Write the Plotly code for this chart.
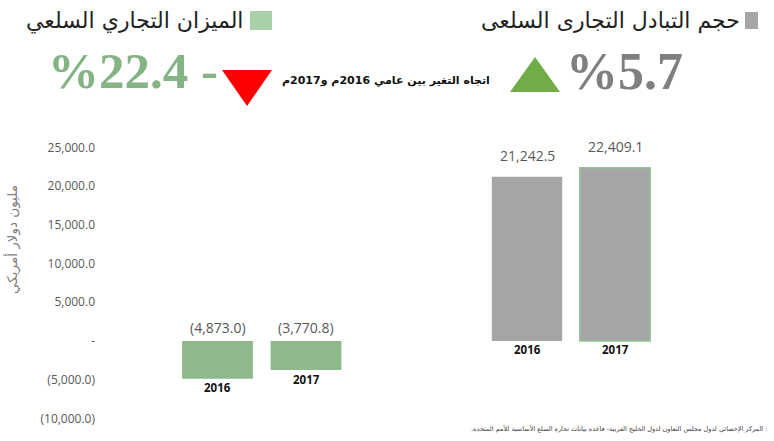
import plotly.graph_objects as go

# ---------------- data ----------------
years = ["2016", "2017"]
trade_balance = [-4873.0, -3770.8]          # الميزان التجاري السلعي
trade_volume = [21242.5, 22409.1]           # حجم التبادل التجاري السلعي
y_ticks = [25000, 20000, 15000, 10000, 5000, 0, -5000, -10000]
volume_change_text = "%5.7"
balance_change_text = "%22.4 -"

title_volume = "حجم التبادل التجارى السلعى"
title_balance = "الميزان التجاري السلعي"
change_caption = "اتجاه التغير بين عامي 2016م و2017م"
y_title = "مليون دولار أمريكي"
source_text = ": المركز الإحصائي لدول مجلس التعاون لدول الخليج العربية- قاعدة بيانات تجارة السلع الأساسية للأمم المتحدة."

W, H = 774, 441
GREEN_BAR = "#8db98d"
GRAY_BAR = "#a5a5a5"
LABEL_FONT = "Open Sans, Liberation Sans, sans-serif"
AR_FONT = "DejaVu Sans, sans-serif"
SERIF = "Liberation Serif, DejaVu Serif, serif"


def fmt(v):
    if v == 0:
        return "-"
    s = f"{abs(v):,.1f}"
    return f"({s})" if v < 0 else s


def px(x):
    return x / W


def py(y):
    return 1 - y / H


fig = go.Figure()
fig.add_trace(go.Bar(x=years, y=trade_balance, xaxis="x", yaxis="y",
                     marker=dict(color=GREEN_BAR, line=dict(width=0)),
                     showlegend=False, hoverinfo="skip"))
fig.add_trace(go.Bar(x=years, y=trade_volume, xaxis="x2", yaxis="y",
                     marker=dict(color=GRAY_BAR,
                                 line=dict(color=["rgba(0,0,0,0)", "#93c493"], width=[0, 1.5])),
                     showlegend=False, hoverinfo="skip"))

annotations = []
# data labels and category labels (x given as category index)
for xa, vals, pos_shift in (("x", trade_balance, 13), ("x2", trade_volume, 21)):
    for i, (yr, v) in enumerate(zip(years, vals)):
        annotations.append(dict(x=i, y=max(v, 0), xref=xa, yref="y", text=fmt(v),
                                showarrow=False, yanchor="middle", yshift=pos_shift,
                                font=dict(family=LABEL_FONT, size=14, color="#595959")))
        annotations.append(dict(x=i, y=min(v, 0), xref=xa, yref="y", text=f"<b>{yr}</b>",
                                showarrow=False, yanchor="middle", yshift=-9,
                                font=dict(family=LABEL_FONT, size=11.5, color="#111111")))

RLM = "\u200f"
annotations += [
    dict(x=px(742), y=py(21), xref="paper", yref="paper", text=title_volume, showarrow=False,
         xanchor="right", yanchor="middle", font=dict(family=AR_FONT, size=22, color="#222222")),
    dict(x=px(245), y=py(21), xref="paper", yref="paper", text=title_balance, showarrow=False,
         xanchor="right", yanchor="middle", font=dict(family=AR_FONT, size=22, color="#222222")),
    dict(x=px(564), y=py(71), xref="paper", yref="paper", text=f"<b>{volume_change_text}</b>",
         showarrow=False, xanchor="left", yanchor="middle",
         font=dict(family=SERIF, size=52, color="#7f7f7f")),
    dict(x=px(46), y=py(71), xref="paper", yref="paper", text=f"<b>{balance_change_text}</b>",
         showarrow=False, xanchor="left", yanchor="middle",
         font=dict(family=SERIF, size=51, color="#84b384")),
    dict(x=px(492), y=py(81), xref="paper", yref="paper", text=f"<b>{change_caption}</b>",
         showarrow=False, xanchor="right", yanchor="middle",
         font=dict(family=AR_FONT, size=11, color="#111111")),
    dict(x=px(12), y=py(240), xref="paper", yref="paper", text=y_title, showarrow=False,
         textangle=-90, xanchor="center", yanchor="middle",
         font=dict(family=AR_FONT, size=13.5, color="#7f7f7f")),
    dict(x=px(769), y=py(428), xref="paper", yref="paper", text=RLM + source_text + RLM,
         showarrow=False, xanchor="right", yanchor="middle",
         font=dict(family=AR_FONT, size=6.5, color="#404040")),
]

shapes = [
    # legend squares
    dict(type="rect", xref="paper", yref="paper", x0=px(745), x1=px(758), y0=py(12), y1=py(29),
         fillcolor="#a6a6a6", line=dict(width=0)),
    dict(type="rect", xref="paper", yref="paper", x0=px(250), x1=px(272), y0=py(11), y1=py(30),
         fillcolor="#a9cfa9", line=dict(width=0)),
    # green up triangle
    dict(type="path", xref="paper", yref="paper",
         path=f"M {px(510)},{py(92)} L {px(560)},{py(92)} L {px(535)},{py(57)} Z",
         fillcolor="#70ad47", line=dict(width=0)),
    # red down triangle
    dict(type="path", xref="paper", yref="paper",
         path=f"M {px(222)},{py(70)} L {px(272)},{py(70)} L {px(247)},{py(106)} Z",
         fillcolor="#ff0000", line=dict(width=0)),
]

ydom = [(H - 418.3) / H, (H - 147.6) / H]
xcommon = dict(type="category", range=[-0.5, 1.5], showticklabels=False, showgrid=False,
               zeroline=False, showline=False, fixedrange=True, automargin=False)
fig.update_layout(
    width=W, height=H, autosize=False,
    margin=dict(l=0, r=0, t=0, b=0, pad=0, autoexpand=False),
    paper_bgcolor="white", plot_bgcolor="white",
    bargap=0.2,
    xaxis=dict(domain=[173.25 / W, 350.25 / W], anchor="y", **xcommon),
    xaxis2=dict(domain=[483 / W, 659 / W], anchor="y", **xcommon),
    yaxis=dict(domain=ydom, range=[-10000, 25000], anchor="free", position=95 / W,
               tickvals=y_ticks, ticktext=[fmt(v) for v in y_ticks],
               tickfont=dict(family=LABEL_FONT, size=12, color="#595959"),
               showgrid=False, zeroline=False, showline=False, ticks="", automargin=False,
               fixedrange=True),
    annotations=annotations,
    shapes=shapes,
)

fig.write_html(
    "out.html",
    config={"displayModeBar": False},
    post_script="document.body.style.margin='0';document.body.style.overflow='hidden';",
)
